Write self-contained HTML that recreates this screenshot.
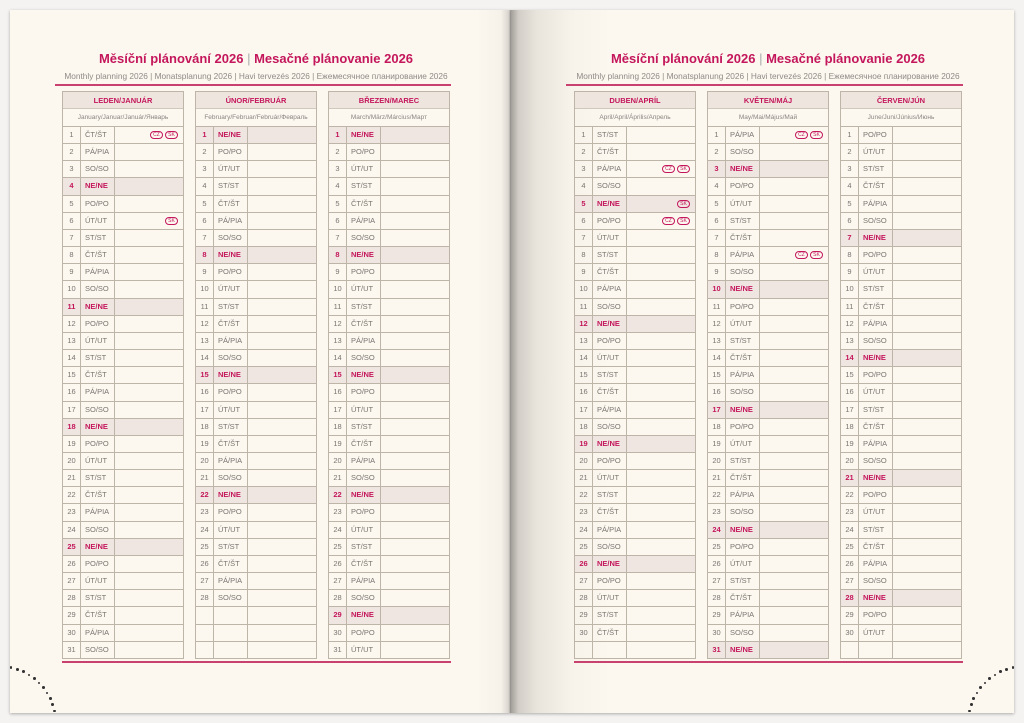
<!DOCTYPE html>
<html><head><meta charset="utf-8">
<style>
*{margin:0;padding:0;box-sizing:border-box}
body{width:1024px;height:723px;background:#f4f3f1;position:relative;overflow:hidden;font-family:"Liberation Sans","DejaVu Sans",sans-serif}
.page{position:absolute;top:10px;height:703px;background:#fcf8f0;box-shadow:0 1px 3px rgba(0,0,0,.3)}
#pl{left:10px;width:501px;background:linear-gradient(to right,#fcf8f0 0,#fcf8f0 93%,#f6f1e9 98%,#d8d4cd 99.6%,#9a9794 100%)}
#pr{left:511px;width:503px;background:linear-gradient(to right,#a29e99 0,#d2cec7 1.5%,#e8e4dc 5%,#f7f3eb 12%,#fcf8f0 20%,#fcf8f0 100%)}
.t1{position:absolute;width:420px;text-align:center;color:#c4175b;font-size:13px;font-weight:bold}
.t1 span{color:#aaa;font-weight:normal}
.t2{position:absolute;width:420px;text-align:center;color:#8f8a85;font-size:8.3px}
.rl{position:absolute;height:2px;background:#c9416e}
.tb{position:absolute;width:122px;border:1px solid #bdb6a8}
.hd{height:17px;background:#efe5df;color:#c4175b;font-size:7.5px;font-weight:bold;text-align:center;line-height:17px;border-bottom:1px solid #cfc8bc}
.sh{height:17px;color:#8a8580;font-size:6.5px;text-align:center;line-height:17px}
.r{height:17.16px;border-top:1px solid #bdb6a8;display:flex;font-size:7.5px;color:#7a7570;position:relative}
.r.s{background:#efe6e2;color:#c4175b;font-weight:bold}
.r div{line-height:16px}
.n{width:18px;text-align:center;border-right:1px solid #bdb6a8}
.d{width:34px;padding-left:4px;border-right:1px solid #bdb6a8}
.i{position:absolute;right:5px;top:4px;display:flex;gap:2px}
.i span{display:inline-block;width:13px;height:8px;border:1px solid #c4175b;border-radius:5px;font-size:5px;color:#c4175b;text-align:center;line-height:6px;font-weight:normal}
.dot{position:absolute;width:2.8px;height:2.8px;border-radius:50%;background:#333}
</style></head><body>
<div class="page" id="pl"></div>
<div class="page" id="pr"></div>
<div class="t1" style="left:46px;top:51px">Měsíční plánování 2026 <span>|</span> Mesačné plánovanie 2026</div>
<div class="t2" style="left:46px;top:71px">Monthly planning 2026 | Monatsplanung 2026 | Havi tervezés 2026 | Ежемесячное планирование 2026</div>
<div class="rl" style="left:55px;top:84px;width:396px"></div>
<div class="t1" style="left:558px;top:51px">Měsíční plánování 2026 <span>|</span> Mesačné plánovanie 2026</div>
<div class="t2" style="left:558px;top:71px">Monthly planning 2026 | Monatsplanung 2026 | Havi tervezés 2026 | Ежемесячное планирование 2026</div>
<div class="rl" style="left:566px;top:84px;width:397px"></div>
<div class="rl" style="left:62px;top:661px;width:389px"></div>
<div class="rl" style="left:574px;top:661px;width:389px"></div>
<div id="c"></div>
<script>
var days=["PO/PO","ÚT/UT","ST/ST","ČT/ŠT","PÁ/PIA","SO/SO","NE/NE"];
var m=[
["LEDEN/JANUÁR","January/Januar/Január/Январь",31,3,62],
["ÚNOR/FEBRUÁR","February/Februar/Február/Февраль",28,6,195],
["BŘEZEN/MAREC","March/März/Március/Март",31,6,328],
["DUBEN/APRÍL","April/April/Április/Апрель",30,2,574],
["KVĚTEN/MÁJ","May/Mai/Május/Май",31,4,707],
["ČERVEN/JÚN","June/Juni/Június/Июнь",30,0,840]];
var ic={"0-1":"CS","0-6":"S","3-3":"CS","3-5":"S","3-6":"CS","4-1":"CS","4-8":"CS"};
var h="";
m.forEach(function(a,k){
 h+='<div class="tb" style="left:'+a[4]+'px;top:91px"><div class="hd">'+a[0]+'</div><div class="sh">'+a[1]+'</div>';
 for(var d=1;d<=31;d++){
  if(d<=a[2]){var w=(a[3]+d-1)%7;var s=w==6?' s':'';
   var x=ic[k+'-'+d],t='';
   if(x){t='<div class="i">'+(x.indexOf('C')>=0?'<span>CZ</span>':'')+'<span>SK</span></div>';}
   h+='<div class="r'+s+'"><div class="n">'+d+'</div><div class="d">'+days[w]+'</div>'+t+'</div>';
  }else h+='<div class="r"><div class="n"></div><div class="d"></div></div>';
 }
 h+='</div>';
});
function arc(cx,cy,r,a0,a1,n){for(var i=0;i<n;i++){var a=(a0+(a1-a0)*i/(n-1))*Math.PI/180;h+='<div class="dot" style="left:'+(cx+r*Math.cos(a)-1.4)+'px;top:'+(cy+r*Math.sin(a)-1.4)+'px"></div>';}}
arc(-2,724,58,-77,-13,11);
arc(1026,724,58,-103,-167,11);
document.getElementById('c').innerHTML=h;
</script>
</body></html>
